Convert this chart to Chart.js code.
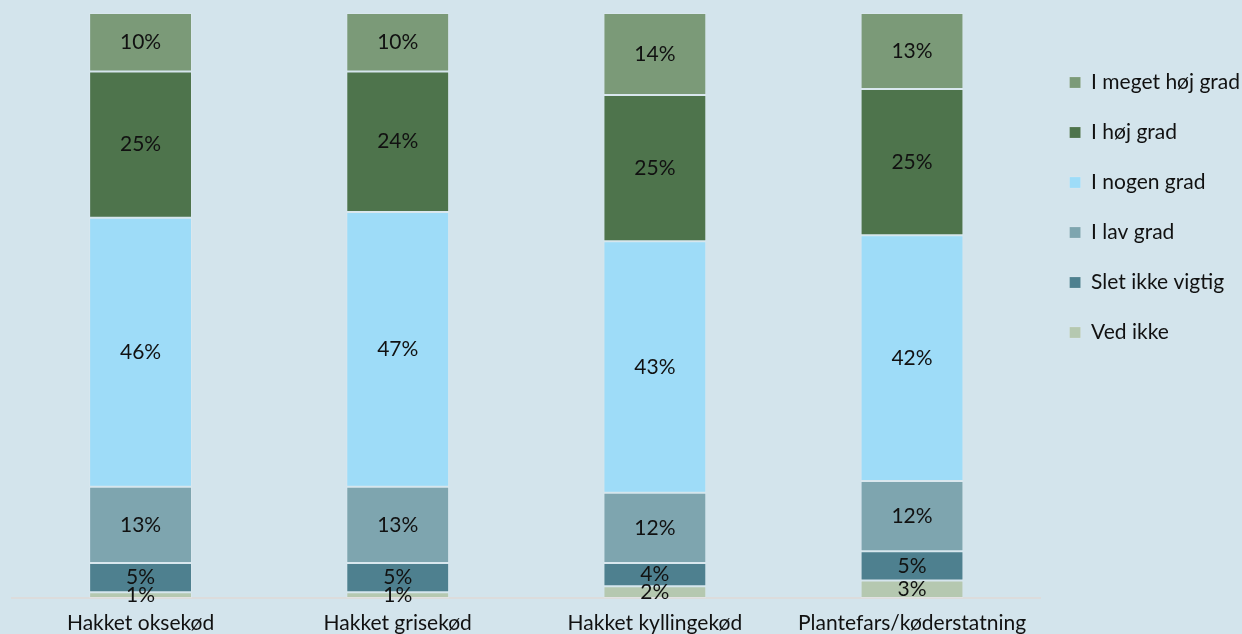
<!DOCTYPE html>
<html>
<head>
<meta charset="utf-8">
<script src="https://cdn.jsdelivr.net/npm/chart.js@4"></script>
<style>
  html, body { margin: 0; padding: 0; background: #d3e4ec; }
  #wrap { width: 1242px; height: 634px; }
</style>
</head>
<body>
<div id="wrap"><canvas id="myChart" width="1242" height="634"></canvas></div>
<script>
// categories and series (bottom of stack first)
var categories = ["Hakket oksekød", "Hakket grisekød", "Hakket kyllingekød", "Plantefars/køderstatning"];
var vedIkke    = [1, 1, 2, 3];
var sletIkke   = [5, 5, 4, 5];
var lavGrad    = [13, 13, 12, 12];
var nogenGrad  = [46, 47, 43, 42];
var hojGrad    = [25, 24, 25, 25];
var megetHoj   = [10, 10, 14, 13];

var fontFamily = "Lato, 'Open Sans', sans-serif";

// draws the percent in the middle of each segment
var segmentLabels = {
	id: 'segmentLabels',
	afterDatasetsDraw: function(chart) {
		var ctx = chart.ctx;
		ctx.save();
		ctx.font = '21px ' + fontFamily;
		ctx.fillStyle = '#111';
		ctx.textAlign = 'center';
		ctx.textBaseline = 'middle';
		chart.data.datasets.forEach(function(ds, i) {
			var meta = chart.getDatasetMeta(i);
			meta.data.forEach(function(bar, j) {
				var y = (bar.y + bar.base) / 2;
				ctx.fillText(ds.data[j] + '%', bar.x, y);
			});
		});
		ctx.restore();
	}
};

function makeSet(label, data, color) {
	return {
		label: label,
		data: data,
		backgroundColor: color,
		borderColor: 'rgba(255,255,255,0.14)',
		borderWidth: 1,
		borderSkipped: false,
		categoryPercentage: 1,
		barPercentage: 0.4
	};
}

var ctx = document.getElementById('myChart').getContext('2d');
var chart = new Chart(ctx, {
	type: 'bar',
	data: {
		labels: categories,
		datasets: [
			makeSet("Ved ikke", vedIkke, '#b5c8b0'),
			makeSet("Slet ikke vigtig", sletIkke, '#4e808f'),
			makeSet("I lav grad", lavGrad, '#7ea5af'),
			makeSet("I nogen grad", nogenGrad, '#9edcf8'),
			makeSet("I høj grad", hojGrad, '#4e744c'),
			makeSet("I meget høj grad", megetHoj, '#7b9a78')
		]
	},
	plugins: [segmentLabels],
	options: {
		responsive: false,
		animation: false,
		layout: {
			padding: { top: 13, left: 12, right: -8, bottom: 0 }
		},
		scales: {
			x: {
				stacked: true,
				grid: { display: false, drawTicks: false },
				border: { color: '#dcdcdc', width: 2 },
				ticks: {
					color: '#111',
					padding: 13,
					font: { family: fontFamily, size: 21 }
				},
				// keep the axis strip short, labels run to the bottom edge like the original
				afterFit: function(scale) {
					scale.height = 36;
				}
			},
			y: {
				stacked: true,
				display: false,
				min: 0,
				max: 100
			}
		},
		plugins: {
			tooltip: { enabled: false },
			legend: {
				position: 'right',
				align: 'start',
				reverse: true,
				title: {
					display: true,
					text: ' ',
					padding: { top: 6, bottom: 0 },
					font: { size: 20 }
				},
				labels: {
					boxWidth: 11,
					boxHeight: 11,
					padding: 29,
					color: '#111',
					font: { family: fontFamily, size: 21 }
				}
			}
		}
	}
});
</script>
</body>
</html>
